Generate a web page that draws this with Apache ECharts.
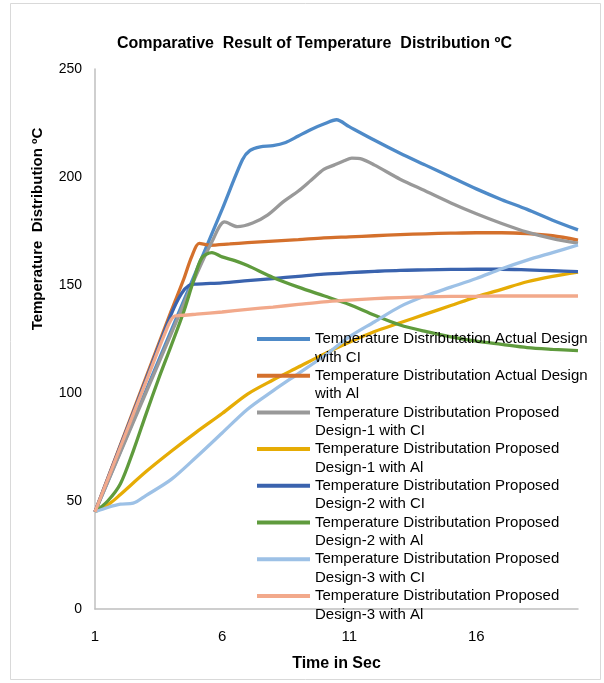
<!DOCTYPE html>
<html>
<head>
<meta charset="utf-8">
<script src="https://cdn.jsdelivr.net/npm/echarts@6/dist/echarts.min.js"></script>
<style>
  html, body { margin: 0; padding: 0; background: #fff; }
  #chart { width: 604px; height: 683px; }
</style>
</head>
<body>
<div id="chart"></div>
<script>
// Time (s) vs temperature (°C) readings, one [time, temperature] list per design/material
const actualCI = [[1,45],[2,73],[3,101],[4,129],[5,157],[6,185],[6.8,208],[7.1,212.3],[7.5,214],[8,214.5],[8.5,216],[9,219],[9.5,222],[10,224.5],[10.5,226.5],[11,223.3],[12,217],[13,211],[14,205.5],[15,200],[16,194.5],[17,189.5],[18,185],[19,180],[20,175.5]];
const actualAl = [[1,45],[2,76],[3,107],[4,138],[4.5,153],[4.8,163],[5.1,169.3],[5.5,168.4],[6.3,169],[7,169.6],[8,170.3],[9,171],[10,171.8],[11,172.3],[12,172.8],[13,173.3],[14,173.7],[15,174],[16,174.2],[17,174.2],[18,173.8],[19,172.8],[20,170.8]];
const design1CI = [[1,45],[2,72.5],[3,100],[4,127.5],[5,155],[5.6,170],[6.1,179.2],[6.6,177],[7.2,178.7],[7.8,182.5],[8.4,188.5],[9,193.5],[9.5,198.5],[10,203.5],[10.4,205.5],[10.8,207.5],[11.1,208.7],[11.5,208.3],[12,205.5],[13,199],[14,193.5],[15,188],[16,183],[17,178.5],[18,174.5],[19,171.5],[20,169.4]];
const design1Al = [[1,45],[1.6,49],[2,53],[3,63.5],[4,73],[5,82],[6,90.5],[7,99.5],[8,106],[9,112],[10,118],[11,123.5],[12,128.5],[13,132.5],[14,136.5],[15,140.5],[16,144.5],[17,148],[18,151.5],[19,154],[20,156]];
const design2CI = [[1,45],[2,75.5],[3,106],[4,136.5],[4.4,146],[4.7,149.8],[5,150.4],[6,151],[7,152],[8,153],[9,154],[10,155],[11,155.7],[12,156.3],[13,156.8],[14,157],[15,157.2],[16,157.3],[17,157.3],[18,157],[19,156.6],[20,156.2]];
const design2Al = [[1,45],[1.5,50],[2,58],[2.5,73],[3,90],[3.5,106.5],[4,122],[4.5,138],[4.85,151],[5.2,162.5],[5.6,165],[6,163],[6.5,161.3],[7,159],[8,153.5],[9,149],[10,145],[11,141],[12,136],[13,131.5],[14,128.5],[15,126],[16,124],[17,122.5],[18,121],[19,120.2],[20,119.6]];
const design3CI = [[1,45],[1.5,47],[2,48.5],[2.5,49],[3,52.5],[4,60],[5,70.5],[6,81.5],[7,92.5],[8,101],[9,109],[10,117],[11,126],[12,133],[13,140],[14,145],[15,149],[16,153],[17,157.5],[18,161.5],[19,165],[20,168.5]];
const design3Al = [[1,45],[2,75],[3,105],[3.8,129],[4.1,135.4],[4.5,136],[5,136.5],[6,137.5],[7,138.7],[8,139.8],[9,141],[10,142.2],[11,143],[12,143.7],[13,144.2],[14,144.5],[15,144.7],[16,144.8],[17,144.9],[18,144.9],[19,144.9],[20,144.9]];

const seriesNames = [
  'Temperature Distributation Actual Design with CI',
  'Temperature Distributation Actual Design with Al',
  'Temperature Distributation Proposed Design-1 with CI',
  'Temperature Distributation Proposed Design-1 with Al',
  'Temperature Distributation Proposed Design-2 with CI',
  'Temperature Distributation Proposed Design-2 with Al',
  'Temperature Distributation Proposed Design-3 with CI',
  'Temperature Distributation Proposed Design-3 with Al'
];
// legend text split over two lines
const legendFirstLine = [
  'Temperature Distributation Actual Design',
  'Temperature Distributation Actual Design',
  'Temperature Distributation Proposed',
  'Temperature Distributation Proposed',
  'Temperature Distributation Proposed',
  'Temperature Distributation Proposed',
  'Temperature Distributation Proposed',
  'Temperature Distributation Proposed'
];
const legendSecondLine = [
  'with CI', 'with Al', 'Design-1 with CI', 'Design-1 with Al',
  'Design-2 with CI', 'Design-2 with Al', 'Design-3 with CI', 'Design-3 with Al'
];
const seriesData = [actualCI, actualAl, design1CI, design1Al, design2CI, design2Al, design3CI, design3Al];
const seriesColors = ['#4E8AC8', '#D4702C', '#999999', '#E6AC05', '#3A63AE', '#5F9B3D', '#9DC1E6', '#F2A98B'];

const xTickLabels = [1, 6, 11, 16];

const FONT = '"Liberation Sans", Arial, sans-serif';
const LEGEND_LH = 18.5;
const LEGEND_ICON_H = 4;

const chart = echarts.init(document.getElementById('chart'), null, { renderer: 'canvas' });

chart.setOption({
  animation: false,
  backgroundColor: '#ffffff',
  title: {
    text: 'Comparative  Result of Temperature  Distribution ºC',
    left: 112,
    top: 31,
    textStyle: { fontFamily: FONT, fontSize: 16, fontWeight: 'bold', color: '#000' }
  },
  grid: { left: 95, right: 26, top: 69, bottom: 74, containLabel: false },
  xAxis: {
    type: 'value',
    min: 1,
    max: 20,
    name: 'Time in Sec',
    nameLocation: 'middle',
    nameGap: 47,
    nameTextStyle: { fontFamily: FONT, fontSize: 16, fontWeight: 'bold', color: '#000' },
    axisLine: { show: true, lineStyle: { color: '#BFBFBF', width: 1.5 } },
    axisTick: { show: false },
    splitLine: { show: false },
    axisLabel: {
      customValues: xTickLabels,
      fontFamily: FONT, fontSize: 15, color: '#000', margin: 20
    }
  },
  yAxis: {
    type: 'value',
    min: 0,
    max: 250,
    interval: 50,
    axisLine: { show: true, lineStyle: { color: '#BFBFBF', width: 1.5 } },
    axisTick: { show: false },
    splitLine: { show: false },
    axisLabel: { fontFamily: FONT, fontSize: 14, color: '#000', margin: 13 }
  },
  legend: {
    orient: 'vertical',
    left: 257,
    // first text line sits level with its icon; the blank leading line keeps it centred
    top: 339 - LEGEND_ICON_H / 2 - (LEGEND_LH * 3) / 2 + LEGEND_ICON_H / 2,
    padding: 0,
    itemWidth: 53,
    itemHeight: LEGEND_ICON_H,
    itemGap: 36.7 - LEGEND_LH * 3,
    selectedMode: false,
    data: seriesNames.map(function (n) { return { name: n, icon: 'rect' }; }),
    formatter: function (name) {
      const i = seriesNames.indexOf(name);
      return ' \n' + legendFirstLine[i] + '\n' + legendSecondLine[i];
    },
    textStyle: {
      fontFamily: FONT, fontSize: 15, color: '#000',
      lineHeight: LEGEND_LH
    }
  },
  graphic: [
    {
      type: 'rect',
      shape: { x: 10.5, y: 3.5, width: 590, height: 676 },
      style: { fill: 'none', stroke: '#D9D9D9', lineWidth: 1 },
      silent: true
    },
    {
      type: 'text',
      x: 38,
      y: 229,
      rotation: Math.PI / 2,
      style: {
        text: 'Temperature  Distribution ºC',
        fontFamily: FONT, fontSize: 15, fontWeight: 'bold', fill: '#000',
        align: 'center', verticalAlign: 'middle'
      }
    }
  ],
  series: seriesNames.map(function (name, i) {
    return {
      name: name,
      type: 'line',
      data: seriesData[i],
      symbol: 'none',
      smooth: 0.3,
      lineStyle: { width: 3.3, color: seriesColors[i] },
      itemStyle: { color: seriesColors[i] }
    };
  })
});
</script>
</body>
</html>
